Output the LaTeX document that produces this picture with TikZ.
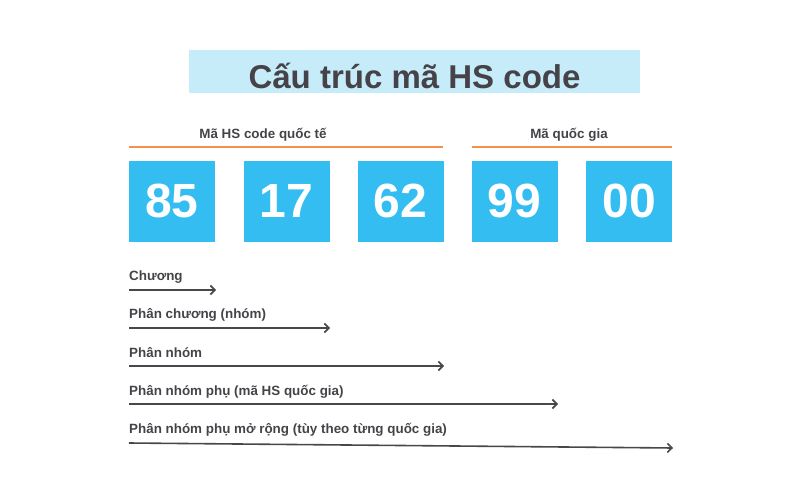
\documentclass[tikz,border=0pt]{standalone}
\usepackage{fontspec}
\setmainfont{Liberation Sans}
\usetikzlibrary{arrows.meta}
\definecolor{titlebg}{HTML}{C6EBF9}
\definecolor{txt}{HTML}{454348}
\definecolor{cell}{HTML}{34BDF0}
\definecolor{orangeline}{HTML}{F4904F}
\definecolor{arr}{HTML}{48474B}
\tikzset{
  cellbox/.style={fill=cell, minimum width=86pt, minimum height=81pt, inner sep=0pt, text=white, font=\fontsize{48}{48}\selectfont\bfseries},
  lab/.style={anchor=base west, inner sep=0pt, text=txt, font=\fontsize{13.4}{13.4}\selectfont\bfseries},
  grp/.style={anchor=base, inner sep=0pt, text=txt, font=\fontsize{13.4}{13.4}\selectfont\bfseries},
  grpline/.style={draw=orangeline, line width=2pt},
  levarrow/.style={draw=arr, line width=1.6pt, -{Straight Barb[length=4.5pt,width=9pt,line width=1.6pt]}}
}
\begin{document}
\begin{tikzpicture}[x=1pt,y=-1pt]
\useasboundingbox (0,0) rectangle (800,500);
% title
\node[fill=titlebg, minimum width=451pt, minimum height=43pt, inner sep=0pt] (titlebox) at (414.5,71.5) {};
\node[anchor=base, inner sep=0pt, text=txt, font=\fontsize{33}{33}\selectfont\bfseries] (title) at (414.5,88.5) {Cấu trúc mã HS code};
% group labels and lines
\node[grp] (g1) at (263,138.5) {Mã HS code quốc tế};
\node[grp] (g2) at (569,138.5) {Mã quốc gia};
\coordinate (l1a) at (129,146.5); \coordinate (l1b) at (443,146.5);
\coordinate (l2a) at (472,146.5); \coordinate (l2b) at (672,146.5);
\draw[grpline] (l1a) -- (l1b);
\draw[grpline] (l2a) -- (l2b);
% cells
\node[cellbox] (c1) at (172,201) {85};
\node[cellbox] (c2) at (286.5,201) {17};
\node[cellbox] (c3) at (400.5,201) {62};
\node[cellbox] (c4) at (514.5,201) {99};
\node[cellbox] (c5) at (629,201) {00};
% levels
\node[lab] (t1) at (129,280) {Chương};
\node[lab] (t2) at (129,318.5) {Phân chương (nhóm)};
\node[lab] (t3) at (129,357) {Phân nhóm};
\node[lab] (t4) at (129,395) {Phân nhóm phụ (mã HS quốc gia)};
\node[lab] (t5) at (129,433.5) {Phân nhóm phụ mở rộng (tùy theo từng quốc gia)};
\coordinate (a1s) at (129,290); \coordinate (a1e) at (216,290);
\coordinate (a2s) at (129,328); \coordinate (a2e) at (330,328);
\coordinate (a3s) at (129,366); \coordinate (a3e) at (444,366);
\coordinate (a4s) at (129,404); \coordinate (a4e) at (558,404);
\coordinate (a5s) at (129,443); \coordinate (a5e) at (673,448);
\draw[levarrow] (a1s) -- (a1e);
\draw[levarrow] (a2s) -- (a2e);
\draw[levarrow] (a3s) -- (a3e);
\draw[levarrow] (a4s) -- (a4e);
\draw[levarrow] (a5s) -- (a5e);
\end{tikzpicture}
\end{document}
